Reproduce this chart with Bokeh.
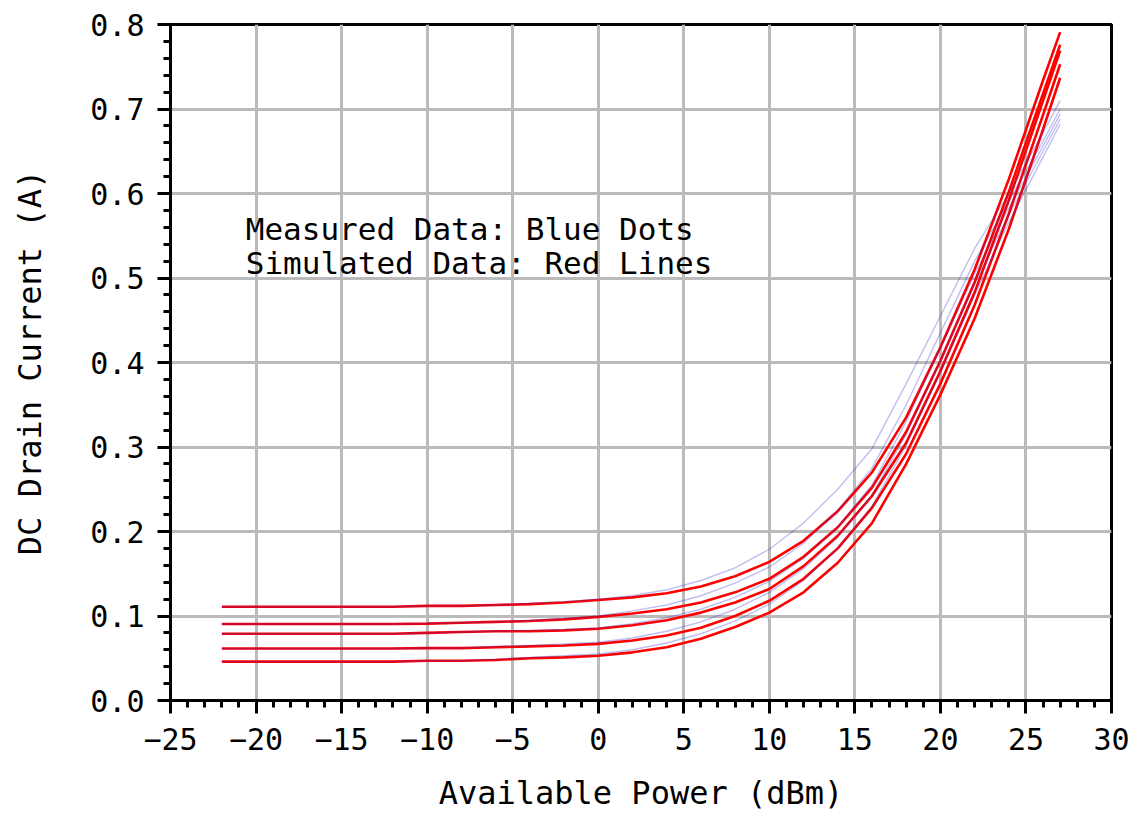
from bokeh.plotting import figure
from bokeh.models import Range1d, FixedTicker, PrintfTickFormatter, Label
from bokeh.embed import file_html
from bokeh.resources import INLINE

# Available power (dBm)
power_dbm = [-22, -20, -18, -16, -14, -12, -10, -8, -6, -4, -2, 0, 2, 4, 6, 8,
             10, 12, 14, 16, 18, 20, 22, 24, 26, 27]

# Simulated DC drain current (A) - red lines
sim_1 = [0.111, 0.111, 0.111, 0.111, 0.111, 0.111, 0.112, 0.112, 0.113, 0.114, 0.116, 0.119, 0.122,
         0.127, 0.135, 0.147, 0.164, 0.189, 0.224, 0.270, 0.335, 0.418, 0.510, 0.617, 0.734, 0.791]
sim_2 = [0.0905, 0.0905, 0.0905, 0.0905, 0.0905, 0.0905, 0.091, 0.092, 0.093, 0.094, 0.096, 0.099, 0.103,
         0.108, 0.116, 0.128, 0.144, 0.170, 0.205, 0.252, 0.318, 0.402, 0.495, 0.602, 0.718, 0.776]
sim_3 = [0.079, 0.079, 0.079, 0.079, 0.079, 0.079, 0.080, 0.081, 0.082, 0.082, 0.083, 0.085, 0.089,
         0.095, 0.104, 0.116, 0.132, 0.159, 0.195, 0.242, 0.305, 0.390, 0.483, 0.592, 0.710, 0.769]
sim_4 = [0.0615, 0.0615, 0.0615, 0.0615, 0.0615, 0.0615, 0.062, 0.062, 0.063, 0.064, 0.065, 0.067, 0.071,
         0.077, 0.086, 0.100, 0.118, 0.144, 0.180, 0.228, 0.292, 0.375, 0.468, 0.576, 0.693, 0.753]
sim_5 = [0.046, 0.046, 0.046, 0.046, 0.046, 0.046, 0.047, 0.047, 0.048, 0.050, 0.051, 0.053, 0.057,
         0.063, 0.073, 0.087, 0.104, 0.128, 0.163, 0.210, 0.280, 0.362, 0.452, 0.558, 0.676, 0.737]

# Measured DC drain current (A) - blue traces
meas_1 = [0.111, 0.111, 0.111, 0.111, 0.111, 0.111, 0.112, 0.112, 0.113, 0.115, 0.117, 0.120, 0.124,
          0.131, 0.142, 0.157, 0.179, 0.210, 0.250, 0.298, 0.375, 0.455, 0.535, 0.600, 0.672, 0.710]
meas_2 = [0.0905, 0.0905, 0.0905, 0.0905, 0.0905, 0.0905, 0.091, 0.092, 0.093, 0.095, 0.097, 0.100, 0.106,
          0.113, 0.124, 0.139, 0.158, 0.186, 0.225, 0.275, 0.350, 0.435, 0.520, 0.591, 0.662, 0.700]
meas_3 = [0.079, 0.079, 0.079, 0.079, 0.079, 0.079, 0.080, 0.081, 0.082, 0.083, 0.084, 0.086, 0.091,
          0.098, 0.108, 0.122, 0.141, 0.168, 0.205, 0.255, 0.330, 0.417, 0.505, 0.583, 0.656, 0.694]
meas_4 = [0.0615, 0.0615, 0.0615, 0.0615, 0.0615, 0.0615, 0.062, 0.062, 0.064, 0.065, 0.067, 0.069, 0.074,
          0.082, 0.093, 0.108, 0.128, 0.156, 0.193, 0.243, 0.315, 0.402, 0.493, 0.575, 0.650, 0.688]
meas_5 = [0.046, 0.046, 0.046, 0.046, 0.046, 0.046, 0.047, 0.047, 0.049, 0.051, 0.053, 0.055, 0.060,
          0.068, 0.079, 0.094, 0.114, 0.142, 0.180, 0.230, 0.302, 0.388, 0.480, 0.566, 0.643, 0.682]

x_ticks = [-25, -20, -15, -10, -5, 0, 5, 10, 15, 20, 25, 30]
y_ticks = [0.0, 0.1, 0.2, 0.3, 0.4, 0.5, 0.6, 0.7, 0.8]

FONT = "DejaVu Sans Mono"

p = figure(width=1136, height=816, output_backend="svg", toolbar_location=None,
           x_range=Range1d(-25, 30), y_range=Range1d(0, 0.8),
           min_border_left=170, min_border_right=25, min_border_top=24, min_border_bottom=116)

p.background_fill_color = "white"
p.border_fill_color = "white"
p.outline_line_color = "black"
p.outline_line_width = 3

# axes
p.xaxis.ticker = FixedTicker(ticks=x_ticks, minor_ticks=list(range(-25, 31)))
p.yaxis.ticker = FixedTicker(ticks=y_ticks, minor_ticks=[i * 0.02 for i in range(41)])
p.yaxis.formatter = PrintfTickFormatter(format="%.1f")

for ax in (p.xaxis[0], p.yaxis[0]):
    ax.axis_line_color = "black"
    ax.axis_line_width = 3
    ax.major_tick_line_color = "black"
    ax.major_tick_line_width = 3
    ax.major_tick_out = 13
    ax.major_tick_in = 0
    ax.minor_tick_line_color = "black"
    ax.minor_tick_line_width = 3
    ax.minor_tick_out = 7
    ax.minor_tick_in = 0
    ax.major_label_text_font = FONT
    ax.major_label_text_font_size = "30px"
    ax.major_label_text_color = "black"
    ax.axis_label_text_font = FONT
    ax.axis_label_text_font_size = "32px"
    ax.axis_label_text_font_style = "normal"
    ax.axis_label_text_color = "black"

p.xaxis.axis_label = "Available Power (dBm)"
p.yaxis.axis_label = "DC Drain Current (A)"
p.xaxis.major_label_standoff = 14
p.yaxis.major_label_standoff = 13
p.xaxis.axis_label_standoff = 21
p.yaxis.axis_label_standoff = 38

# grid
for g in (p.xgrid[0], p.ygrid[0]):
    g.grid_line_color = "#bbbbbb"
    g.grid_line_width = 3
p.xgrid.ticker = FixedTicker(ticks=x_ticks)
p.ygrid.ticker = FixedTicker(ticks=y_ticks)

# simulated (red)
for s in (sim_1, sim_2, sim_3, sim_4, sim_5):
    p.line(power_dbm, s, line_color="#ff0000", line_width=2.6)

# measured (blue, translucent)
for m in (meas_1, meas_2, meas_3, meas_4, meas_5):
    p.line(power_dbm, m, line_color="#2a2ad0", line_width=1.4, line_alpha=0.3)

p.add_layout(Label(x=-20.6, y=0.537, text="Measured Data: Blue Dots",
                   text_font=FONT, text_font_size="31px", text_color="black"))
p.add_layout(Label(x=-20.6, y=0.497, text="Simulated Data: Red Lines",
                   text_font=FONT, text_font_size="31px", text_color="black"))

open("out.html", "w").write(file_html(p, INLINE))
